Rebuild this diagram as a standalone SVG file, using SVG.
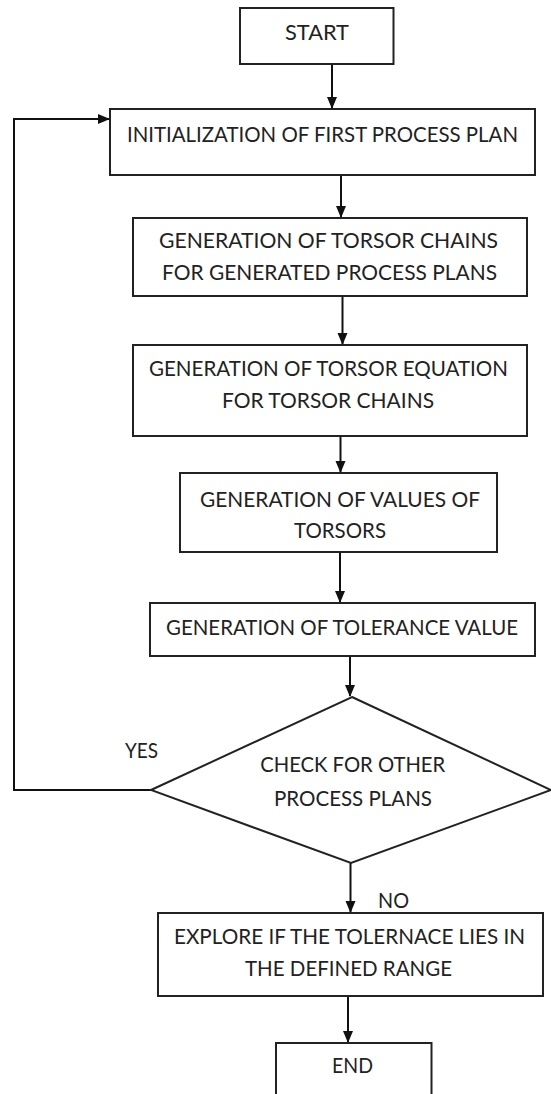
<svg xmlns="http://www.w3.org/2000/svg" width="551" height="1094" viewBox="0 0 551 1094">
<defs>
<style>
.box{fill:#fff;stroke:#222;stroke-width:2}
.t{font-family:Lato,"Open Sans","Liberation Sans",sans-serif;font-size:21px;fill:#222;text-anchor:middle}
.c{fill:none;stroke:#111;stroke-width:2}
</style>
<marker id="ah" markerWidth="12" markerHeight="12" refX="11" refY="5.5" orient="auto" markerUnits="userSpaceOnUse">
<path d="M0,0.5 L12,5.5 L0,10.5 Z" fill="#111"/>
</marker>
</defs>
<rect width="551" height="1094" fill="#fff"/>
<g id="connectors">
<line class="c" x1="332" y1="64" x2="332" y2="108" marker-end="url(#ah)"/>
<polyline class="c" points="151,790 14,790 14,119 109,119" marker-end="url(#ah)"/>
<line class="c" x1="341" y1="175" x2="341" y2="217" marker-end="url(#ah)"/>
<line class="c" x1="342.5" y1="296" x2="342.5" y2="344" marker-end="url(#ah)"/>
<line class="c" x1="340.5" y1="436" x2="340.5" y2="472" marker-end="url(#ah)"/>
<line class="c" x1="340" y1="552" x2="340" y2="602" marker-end="url(#ah)"/>
<line class="c" x1="350" y1="656" x2="350" y2="696" marker-end="url(#ah)"/>
<line class="c" x1="350.5" y1="863" x2="350.5" y2="912" marker-end="url(#ah)"/>
<line class="c" x1="348" y1="996" x2="348" y2="1042" marker-end="url(#ah)"/>
</g>
<g id="start">
<rect class="box" x="240" y="8" width="153.5" height="56"/>
<text class="t" x="317" y="40" textLength="64" lengthAdjust="spacingAndGlyphs">START</text>
</g>
<g id="init">
<rect class="box" x="110" y="109" width="425" height="66"/>
<text class="t" x="322.5" y="142" textLength="391" lengthAdjust="spacingAndGlyphs">INITIALIZATION OF FIRST PROCESS PLAN</text>
</g>
<g id="chains">
<rect class="box" x="133" y="218" width="394" height="78"/>
<text class="t" x="328.5" y="248" textLength="339" lengthAdjust="spacingAndGlyphs">GENERATION OF TORSOR CHAINS</text>
<text class="t" x="329.5" y="280" textLength="335" lengthAdjust="spacingAndGlyphs">FOR GENERATED PROCESS PLANS</text>
</g>
<g id="equation">
<rect class="box" x="133" y="345" width="394" height="91"/>
<text class="t" x="328.5" y="376" textLength="359" lengthAdjust="spacingAndGlyphs">GENERATION OF TORSOR EQUATION</text>
<text class="t" x="328" y="408" textLength="212" lengthAdjust="spacingAndGlyphs">FOR TORSOR CHAINS</text>
</g>
<g id="values">
<rect class="box" x="180" y="473" width="317" height="79"/>
<text class="t" x="340" y="507" textLength="280" lengthAdjust="spacingAndGlyphs">GENERATION OF VALUES OF</text>
<text class="t" x="340" y="538" textLength="92" lengthAdjust="spacingAndGlyphs">TORSORS</text>
</g>
<g id="tolerance">
<rect class="box" x="150" y="603" width="385" height="53"/>
<text class="t" x="342" y="635" textLength="352" lengthAdjust="spacingAndGlyphs">GENERATION OF TOLERANCE VALUE</text>
</g>
<g id="check">
<polygon class="box" points="352,697 551,790 351,863 151,790"/>
<text class="t" x="352.7" y="772" textLength="185" lengthAdjust="spacingAndGlyphs">CHECK FOR OTHER</text>
<text class="t" x="353" y="806" textLength="158" lengthAdjust="spacingAndGlyphs">PROCESS PLANS</text>
</g>
<g id="labels">
<text class="t" x="141.5" y="758" textLength="33" lengthAdjust="spacingAndGlyphs">YES</text>
<text class="t" x="393.5" y="908" textLength="31" lengthAdjust="spacingAndGlyphs">NO</text>
</g>
<g id="explore">
<rect class="box" x="158" y="913" width="385" height="83"/>
<text class="t" x="349.5" y="944" textLength="351" lengthAdjust="spacingAndGlyphs">EXPLORE IF THE TOLERNACE LIES IN</text>
<text class="t" x="348.5" y="976" textLength="207" lengthAdjust="spacingAndGlyphs">THE DEFINED RANGE</text>
</g>
<g id="end">
<rect class="box" x="276" y="1043" width="155.5" height="60"/>
<text class="t" x="352.5" y="1073" textLength="41" lengthAdjust="spacingAndGlyphs">END</text>
</g>
</svg>
